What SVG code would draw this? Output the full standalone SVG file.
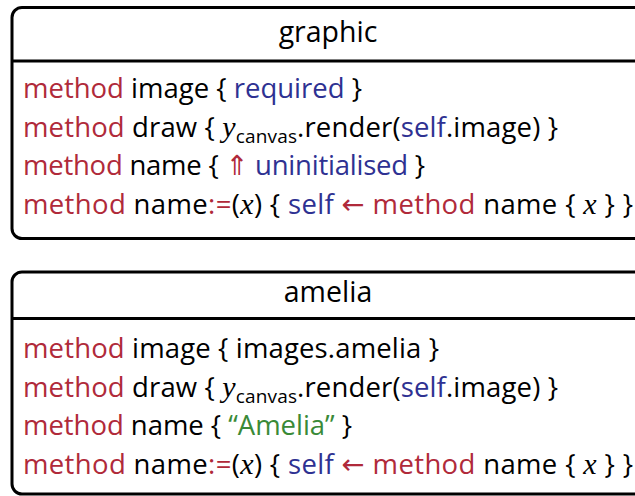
<svg xmlns="http://www.w3.org/2000/svg" width="635" height="496" viewBox="0 0 635 496">
<style>
.box{fill:#fff;stroke:#000;stroke-width:3}
.div{stroke:#000;stroke-width:3}
.t{font-family:"Open Sans","DejaVu Sans",sans-serif;font-size:27.5px;fill:#000}
.h{text-anchor:middle;font-size:28.5px}
.r{fill:#b02a3a}
.b{fill:#2e3192}
.g{fill:#3a8a37}
.m{font-family:"Liberation Serif","DejaVu Serif",serif;font-style:italic;font-size:30px}
.sub{font-size:19px}
</style>
<rect width="635" height="496" fill="#fff"/>
<g id="graphic">
<rect class="box" x="12" y="7.5" width="640" height="231" rx="10"/>
<line class="div" x1="12" y1="61" x2="652" y2="61"/>
<text class="t h" x="328" y="42">graphic</text>
<text class="t" x="23" y="98" textLength="339" lengthAdjust="spacing"><tspan class="r">method</tspan> image { <tspan class="b">required</tspan> }</text>
<text class="t" x="23" y="137" textLength="535" lengthAdjust="spacing"><tspan class="r">method</tspan> draw { <tspan class="m">y</tspan><tspan class="sub" dy="6">canvas</tspan><tspan dy="-6">.render(</tspan><tspan class="b">self</tspan>.image) }</text>
<text class="t" x="23" y="175" textLength="402" lengthAdjust="spacing"><tspan class="r">method</tspan> name { <tspan class="r">⇑</tspan> <tspan class="b">uninitialised</tspan> }</text>
<text class="t" x="23" y="214" textLength="610" lengthAdjust="spacing"><tspan class="r">method</tspan> name<tspan class="r">:=</tspan>(<tspan class="m">x</tspan>) { <tspan class="b">self</tspan> <tspan class="r">← method</tspan> name { <tspan class="m">x</tspan> } }</text>
</g>
<g id="amelia">
<rect class="box" x="12" y="272" width="640" height="222" rx="10"/>
<line class="div" x1="12" y1="318.5" x2="652" y2="318.5"/>
<text class="t h" x="328" y="302">amelia</text>
<text class="t" x="23" y="358" textLength="416" lengthAdjust="spacing"><tspan class="r">method</tspan> image { images.amelia }</text>
<text class="t" x="23" y="397" textLength="535" lengthAdjust="spacing"><tspan class="r">method</tspan> draw { <tspan class="m">y</tspan><tspan class="sub" dy="6">canvas</tspan><tspan dy="-6">.render(</tspan><tspan class="b">self</tspan>.image) }</text>
<text class="t" x="23" y="435" textLength="329" lengthAdjust="spacing"><tspan class="r">method</tspan> name { <tspan class="g">“Amelia”</tspan> }</text>
<text class="t" x="23" y="474" textLength="610" lengthAdjust="spacing"><tspan class="r">method</tspan> name<tspan class="r">:=</tspan>(<tspan class="m">x</tspan>) { <tspan class="b">self</tspan> <tspan class="r">← method</tspan> name { <tspan class="m">x</tspan> } }</text>
</g>
<g id="connectors"/>
</svg>
